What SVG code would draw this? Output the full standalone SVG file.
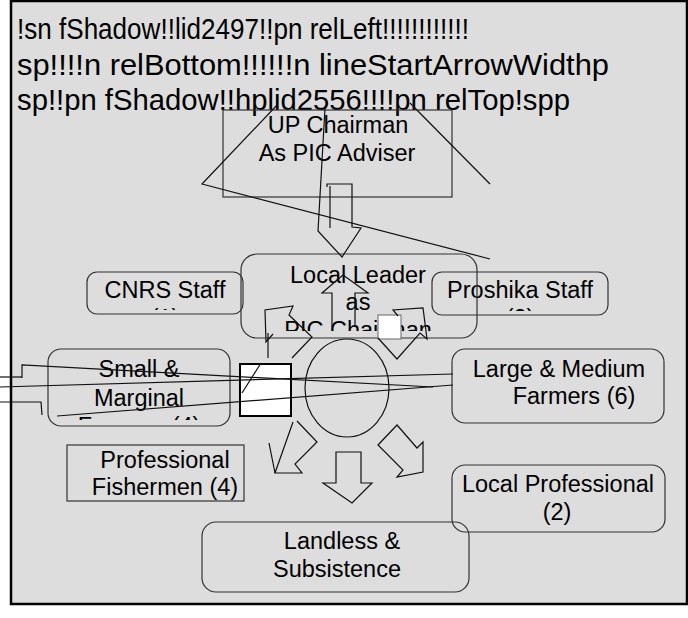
<svg xmlns="http://www.w3.org/2000/svg" width="688" height="618" viewBox="0 0 688 618">
<style>
.n{fill:none;stroke:#333;stroke-width:1.2}
.t{font-family:"Liberation Sans",Arial,sans-serif;font-size:23.5px;fill:#000}
.h{font-family:"Liberation Sans",Arial,sans-serif;font-size:29px;fill:#000}
.x{letter-spacing:-1.6px}
.l{fill:none;stroke:#111;stroke-width:1.2}
</style>
<defs>
<clipPath id="cLL"><rect x="241" y="254" width="236" height="77"/></clipPath>
<clipPath id="cSM"><rect x="48" y="349" width="182" height="71"/></clipPath>
<clipPath id="cCN"><rect x="87" y="272" width="156" height="38"/></clipPath>
<clipPath id="cPR"><rect x="432" y="272" width="176" height="39"/></clipPath>
</defs>
<rect x="0" y="0" width="688" height="618" fill="#fff"/>
<rect x="11" y="1" width="676" height="603" fill="#ddd" stroke="#000" stroke-width="2.5"/>
<g id="header">
<text class="h" x="17" y="39" textLength="452" lengthAdjust="spacingAndGlyphs">!sn fShadow!!lid2497!!pn relLeft!!!!!!!!!!!!</text>
<text class="h" x="17" y="75" textLength="592" lengthAdjust="spacingAndGlyphs">sp!!!!n relBottom!!!!!!n lineStartArrowWidthp</text>
<text class="h" x="17" y="110" textLength="553" lengthAdjust="spacingAndGlyphs">sp!!pn fShadow!!hplid2556!!!!pn relTop!spp</text>
</g>
<g id="up-chairman">
<rect class="n" x="223" y="110" width="229" height="87"/>
<text class="t" x="338" y="133" text-anchor="middle">UP Chairman</text>
<text class="t" x="337" y="161" text-anchor="middle">As PIC Adviser</text>
</g>
<g id="proshika-staff">
<rect class="n" x="432" y="272" width="176" height="43" rx="10"/>
<text class="t" x="520" y="298" text-anchor="middle">Proshika Staff</text>
<text class="t" x="520" y="326" text-anchor="middle" clip-path="url(#cPR)">(2)</text>
</g>
<g id="cnrs-staff">
<rect class="n" x="87" y="272" width="156" height="42" rx="10"/>
<text class="t" x="165" y="298" text-anchor="middle">CNRS Staff</text>
<text class="t" x="165" y="326" text-anchor="middle" clip-path="url(#cCN)">(1)</text>
</g>
<g id="local-leader">
<rect class="n" x="241" y="254" width="236" height="84" rx="16"/>
<g clip-path="url(#cLL)">
<text class="t" x="358" y="283" text-anchor="middle">Local Leader</text>
<text class="t" x="358" y="310" text-anchor="middle">as</text>
<text class="t" x="358" y="338" text-anchor="middle">PIC Chairman</text>
</g>
</g>
<g id="small-marginal">
<rect class="n" x="48" y="349" width="182" height="77" rx="13"/>
<text class="t" x="139" y="377" text-anchor="middle">Small &amp;</text>
<text class="t" x="139" y="406" text-anchor="middle">Marginal</text>
<text class="t" x="139" y="434" text-anchor="middle" clip-path="url(#cSM)">Farmers (4)</text>
</g>
<g id="large-medium">
<rect class="n" x="452" y="349" width="212" height="74" rx="13"/>
<text class="t" x="559" y="377" text-anchor="middle">Large &amp; Medium</text>
<text class="t" x="574" y="404" text-anchor="middle">Farmers (6)</text>
</g>
<g id="professional-fishermen">
<rect class="n" x="67" y="445" width="177" height="56"/>
<text class="t" x="165" y="468" text-anchor="middle">Professional</text>
<text class="t" x="165" y="495" text-anchor="middle">Fishermen (4)</text>
</g>
<g id="local-professional">
<rect class="n" x="452" y="465" width="213" height="67" rx="13"/>
<text class="t" x="558" y="492" text-anchor="middle">Local Professional</text>
<text class="t" x="557" y="520" text-anchor="middle">(2)</text>
</g>
<g id="landless">
<rect class="n" x="202" y="522" width="267" height="70" rx="14"/>
<text class="t" x="342" y="549" text-anchor="middle">Landless &amp;</text>
<text class="t" x="337" y="577" text-anchor="middle">Subsistence</text>
</g>
<g id="centre">
<ellipse class="l" cx="347" cy="388" rx="42" ry="49"/>
<rect x="240" y="364" width="51" height="52" fill="#fff" stroke="#000" stroke-width="2"/>
<rect x="378" y="315" width="23" height="24" fill="#fff" stroke="#666" stroke-width="1"/>
</g>
<g id="connectors" class="l">
<path d="M278,104 L202,184 L490,259"/>
<path d="M410,103 L490,184"/>
<path d="M325,108 L318,231 L342,257 L361,228 L352,227 L352,184 L327,184 L327,187"/>
<path d="M330,186 L330,228"/>
<path d="M332,327 L332,293 L322,293 L343,275 L368,293 L355,293 L355,327"/>
<path d="M292,358 L312,337 L289,315 L293,306 L265,310 L266,342 L273,334"/>
<path d="M268,333 L268,358"/>
<path d="M378,338 L397,359 L420,333 L427,339 L423,308 L393,310 L398,316"/>
<path d="M293,422 L275,473 L302,473 L295,464 L317,442 L297,421"/>
<path d="M269,443 L275,473"/>
<path d="M336,452 L336,483 L323,483 L352,503 L372,483 L361,483 L361,452 Z"/>
<path d="M378,445 L397,425 L417,448 L423,442 L423,472 L397,477 L403,470 Z"/>
<path d="M0,377 L22,377"/>
<path d="M22,378 L22,365 L433,387"/>
<path d="M0,387 L453,374"/>
<path d="M0,402 L41,402 L42,415"/>
<path d="M57,416 L453,385"/>
<path d="M242,393 L261,363"/>
</g>
</svg>
